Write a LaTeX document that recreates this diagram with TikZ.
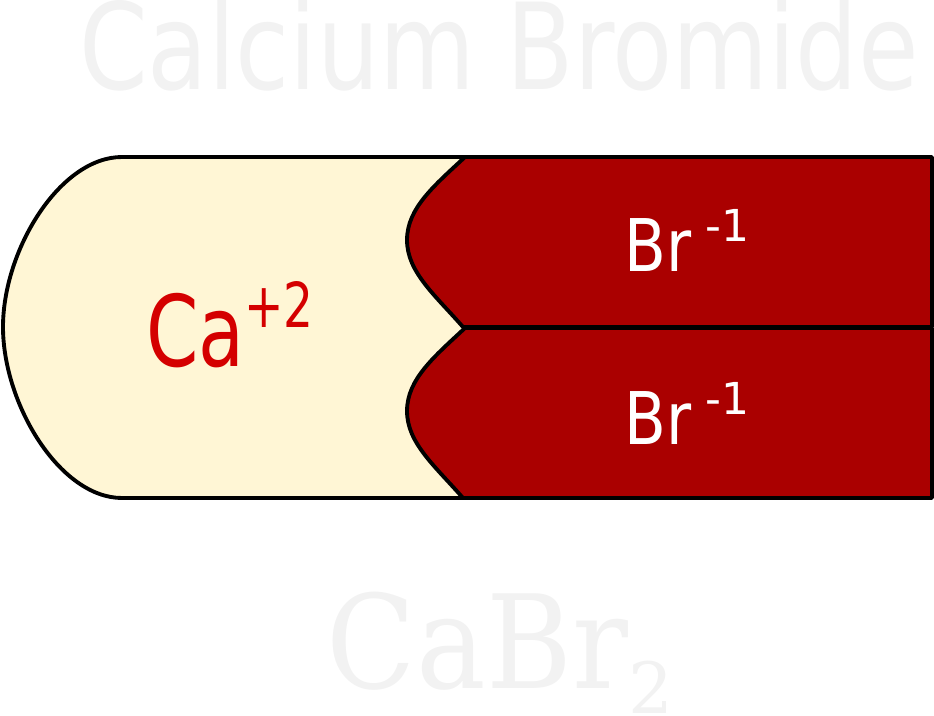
\documentclass[tikz,border=0pt]{standalone}
\usepackage{fontspec}
\newfontfamily\titlefont[FakeStretch=0.82]{DejaVu Sans}
\newfontfamily\cafont[FakeStretch=0.76]{DejaVu Sans}
\newfontfamily\brfont[FakeStretch=0.84]{DejaVu Sans}
\newfontfamily\chargefont{DejaVu Sans}
\newfontfamily\formulafont[FakeStretch=0.9]{DejaVu Serif}
\newfontfamily\subfont{DejaVu Serif}
\definecolor{cacream}{HTML}{FFF6D5}
\definecolor{brred}{HTML}{AA0000}
\definecolor{catext}{HTML}{D40000}
\definecolor{ghostgray}{HTML}{F2F2F2}
\begin{document}
\begin{tikzpicture}[x=0.75pt,y=-0.75pt,
  ionbox/.style={draw=black,line width=2.9pt,line join=round},
  every node/.style={inner sep=0pt,anchor=base}]
\useasboundingbox (0,0) rectangle (934,716);
% calcium
\draw[ionbox,fill=cacream] (122,157)--(466,157)--(466,498)--(122,498)
  .. controls (60,498) and (3,404) .. (3,327)
  .. controls (3,250) and (60,157) .. (122,157)--cycle;
% two bromide ions
\foreach \dy in {0,171}{
 \draw[ionbox,fill=brred] (465,157+\dy)--(932,157+\dy)--(932,327+\dy)--(463,327+\dy)
  .. controls (435,295+\dy) and (407,272+\dy) .. (407,240+\dy)
  .. controls (407,208+\dy) and (435,185+\dy) .. (465,157+\dy)--cycle;}
% labels
\node[text=ghostgray,font=\titlefont\fontsize{90pt}{90pt}\selectfont] (title) at (499,90) {Calcium Bromide};
\node[text=catext,font=\cafont\fontsize{74pt}{74pt}\selectfont] (ca) at (230,366)
  {Ca\raisebox{29pt}{\fontsize{46.5pt}{46.5pt}\selectfont+2}};
\node[text=white,font=\brfont\fontsize{54.5pt}{54.5pt}\selectfont] (br1) at (687,272)
  {Br\kern10pt\raisebox{22.5pt}{\chargefont\fontsize{33pt}{33pt}\selectfont-1}};
\node[text=white,font=\brfont\fontsize{54.5pt}{54.5pt}\selectfont] (br2) at (687,444)
  {Br\kern10pt\raisebox{22.5pt}{\chargefont\fontsize{33pt}{33pt}\selectfont-1}};
\node[text=ghostgray,font=\formulafont\fontsize{97.5pt}{97.5pt}\selectfont] (formula) at (500,688)
  {CaBr\raisebox{-19pt}{\subfont\fontsize{53pt}{53pt}\selectfont2}};
\end{tikzpicture}
\end{document}
